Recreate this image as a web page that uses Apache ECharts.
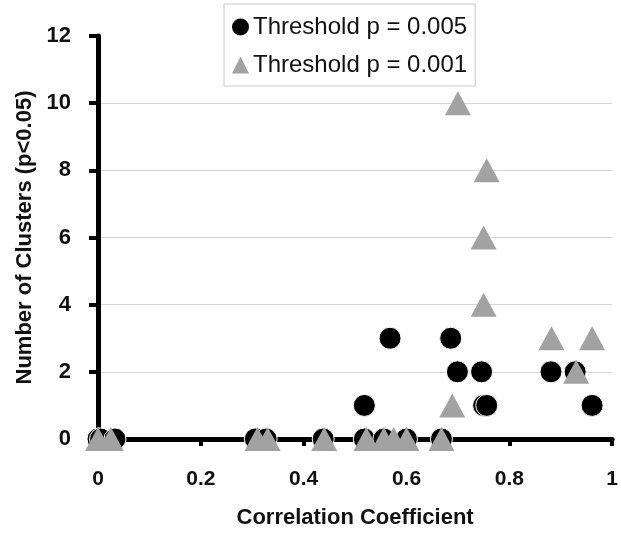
<!DOCTYPE html>
<html>
<head>
<meta charset="utf-8">
<script src="https://cdn.jsdelivr.net/npm/echarts@6/dist/echarts.min.js"></script>
<style>
  html, body { margin: 0; padding: 0; background: #fff; }
  #chart { width: 621px; height: 534px; }
</style>
</head>
<body>
<div id="chart"></div>
<script>
// threshold p = 0.005 (black circles)
const circleX = [0, 0.005, 0.033, 0.306, 0.327, 0.438, 0.518, 0.556, 0.6, 0.668,
                 0.518, 0.75, 0.756, 0.961,
                 0.699, 0.746, 0.881, 0.928,
                 0.568, 0.686];
const circleY = [0, 0, 0, 0, 0, 0, 0, 0, 0, 0,
                 1, 1, 1, 1,
                 2, 2, 2, 2,
                 3, 3];
// threshold p = 0.001 (grey triangles)
const triX = [0, 0.025, 0.31, 0.33, 0.44, 0.522, 0.556, 0.575, 0.6, 0.668,
              0.689, 0.93, 0.882, 0.961, 0.75, 0.75, 0.756, 0.7];
const triY = [0, 0, 0, 0, 0, 0, 0, 0, 0, 0,
              1, 2, 3, 3, 4, 6, 8, 10];

const seriesNames = ['Threshold p = 0.005', 'Threshold p = 0.001'];
const xTitle = 'Correlation Coefficient';
const yTitle = 'Number of Clusters (p<0.05)';

function pairs(xs, ys) {
  return xs.map((x, i) => [x, ys[i]]);
}

const chart = echarts.init(document.getElementById('chart'));
const axisFont = { fontFamily: 'Liberation Sans', fontWeight: 'bold', color: '#111' };

chart.setOption({
  animation: false,
  grid: { left: 98, right: 8, top: 36, bottom: 94 },
  legend: {
    orient: 'vertical',
    left: 224,
    top: 4,
    padding: [11, 8, 9, 8],
    itemGap: 14,
    itemWidth: 17,
    itemHeight: 17,
    borderColor: '#c8c8c8',
    borderWidth: 1,
    textStyle: { fontFamily: 'Liberation Sans', fontSize: 24, color: '#111', padding: [0, 0, 0, -1] },
    data: [
      { name: seriesNames[0], icon: 'circle', itemStyle: { borderWidth: 0 } },
      { name: seriesNames[1], icon: 'triangle' }
    ]
  },
  xAxis: {
    type: 'value',
    min: 0,
    max: 1,
    interval: 0.2,
    name: xTitle,
    nameLocation: 'middle',
    nameGap: 68,
    nameTextStyle: Object.assign({ fontSize: 22 }, axisFont),
    axisLine: { show: true, onZero: false, lineStyle: { color: '#000', width: 5 } },
    axisTick: { show: true, length: 7, lineStyle: { color: '#000', width: 4 } },
    axisLabel: Object.assign({ fontSize: 21, margin: 30 }, axisFont),
    splitLine: { show: false }
  },
  yAxis: {
    type: 'value',
    min: 0,
    max: 12,
    interval: 2,
    name: yTitle,
    nameLocation: 'middle',
    nameGap: 58,
    nameTextStyle: Object.assign({ fontSize: 22 }, axisFont),
    axisLine: { show: true, onZero: false, lineStyle: { color: '#000', width: 5 } },
    axisTick: { show: true, length: 9, lineStyle: { color: '#000', width: 4 } },
    axisLabel: Object.assign({ fontSize: 22, margin: 27 }, axisFont),
    splitLine: { show: true, showMinLine: false, showMaxLine: false, lineStyle: { color: '#d6d6d6', width: 1 } }
  },
  series: [
    {
      name: seriesNames[0],
      type: 'scatter',
      symbol: 'circle',
      symbolSize: 22,
      itemStyle: { color: '#000', borderColor: '#fff', borderWidth: 1, opacity: 1 },
      data: pairs(circleX, circleY),
      z: 2
    },
    {
      name: seriesNames[1],
      type: 'scatter',
      symbol: 'triangle',
      symbolSize: [26, 24],
      itemStyle: { color: '#a2a2a2', opacity: 1 },
      data: pairs(triX, triY),
      z: 3
    }
  ]
});
</script>
</body>
</html>
